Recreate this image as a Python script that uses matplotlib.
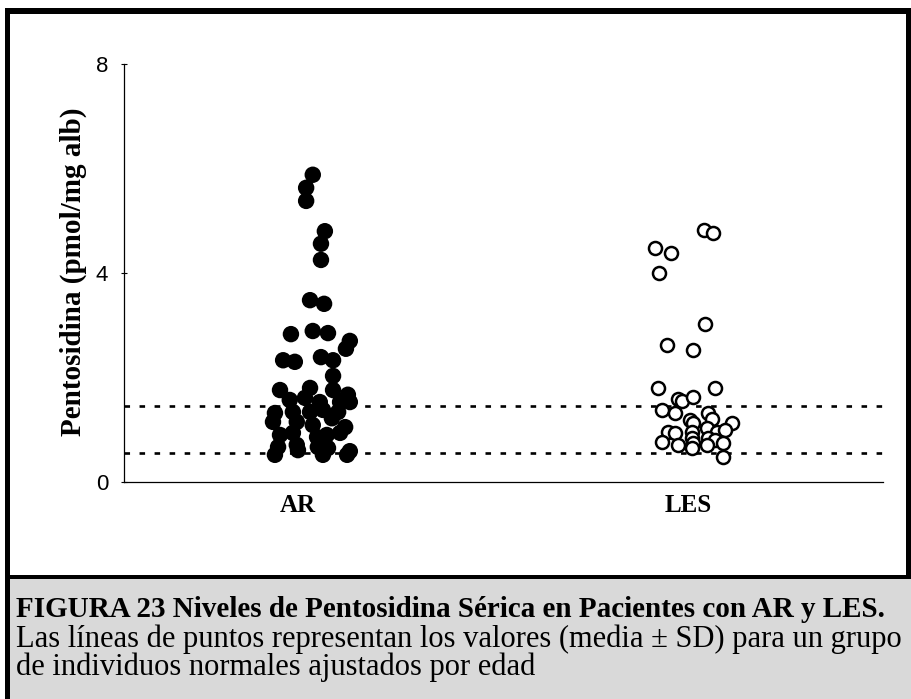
import matplotlib
matplotlib.use("Agg")
import matplotlib.pyplot as plt
from matplotlib.patches import Rectangle

# data
categories = ["AR", "LES"]

ar_x = [1.038, 1.021, 1.021, 1.069, 1.059, 1.059, 1.031, 1.067, 0.982, 1.038,
        1.077, 1.133, 1.123, 0.962, 0.992, 1.059, 1.090, 1.090, 0.954, 1.031,
        1.090, 1.128, 0.979, 1.018, 1.056, 1.108, 1.133, 0.941, 0.987, 1.031,
        1.064, 1.103, 0.936, 0.997, 1.038, 1.087, 1.121, 0.954, 0.987, 1.049,
        1.074, 1.108, 0.949, 0.997, 1.051, 1.077, 0.941, 1.000, 1.064, 1.133,
        1.126]
ar_y = [5.88, 5.63, 5.38, 4.80, 4.56, 4.25, 3.48, 3.41, 2.83, 2.89,
        2.85, 2.70, 2.55, 2.33, 2.30, 2.39, 2.33, 2.03, 1.76, 1.80,
        1.76, 1.67, 1.57, 1.61, 1.53, 1.53, 1.53, 1.32, 1.34, 1.34,
        1.38, 1.34, 1.15, 1.15, 1.09, 1.22, 1.05, 0.90, 0.94, 0.86,
        0.90, 0.94, 0.67, 0.71, 0.67, 0.65, 0.52, 0.61, 0.52, 0.59,
        0.52]

les_x = [2.041, 2.064, 1.915, 1.956, 1.926, 2.044, 1.946, 2.013, 1.923, 2.069,
         1.974, 1.985, 2.013, 1.933, 1.967, 2.051, 2.005, 2.062, 2.013, 2.113,
         1.949, 1.967, 2.049, 2.074, 2.095, 2.010, 1.933, 1.974, 2.010, 2.013,
         2.051, 2.069, 2.090, 2.010, 2.049, 2.090]
les_y = [4.82, 4.77, 4.48, 4.38, 4.00, 3.02, 2.62, 2.53, 1.80, 1.80,
         1.59, 1.55, 1.63, 1.38, 1.32, 1.32, 1.19, 1.21, 1.13, 1.13,
         0.96, 0.94, 1.03, 0.96, 1.00, 0.96, 0.77, 0.71, 0.84, 0.75,
         0.84, 0.80, 0.75, 0.65, 0.71, 0.48]

normal_limits = [0.55, 1.45]  # media - SD, media + SD
y_ticks = [0, 4, 8]

caption_title = "FIGURA 23 Niveles de Pentosidina Sérica en Pacientes con AR y LES."
caption_lines = [
    "Las líneas de puntos representan los valores (media ± SD) para un grupo",
    "de individuos normales ajustados por edad",
]

W, H = 911, 699


def fx(px):
    return px / W


def fy(py):
    return 1 - py / H


fig = plt.figure(figsize=(W / 100, H / 100), dpi=100)

# frame and caption box
fig.add_artist(Rectangle((fx(10), 0), 1 - fx(10), fy(578), transform=fig.transFigure,
                         facecolor="#d9d9d9", edgecolor="none", zorder=0))
for x0, y0, x1, y1 in [(5, 8, 911, 14), (5, 8, 10, 699), (906, 8, 911, 578), (5, 575, 911, 579)]:
    fig.add_artist(Rectangle((fx(x0), fy(y1)), fx(x1) - fx(x0), fy(y0) - fy(y1),
                             transform=fig.transFigure, facecolor="black",
                             edgecolor="none", zorder=1))

ax = fig.add_axes([fx(124), fy(482), fx(883) - fx(124), fy(64) - fy(482)])
ax.set_facecolor("none")

for y in normal_limits:
    ax.axhline(y, color="black", lw=1.9, dashes=(2.1, 3.6), zorder=1)

ax.scatter(ar_x, ar_y, s=140, color="black", edgecolors="none", zorder=3)
ax.scatter(les_x, les_y, s=88, facecolors="white", edgecolors="black",
           linewidths=1.8, zorder=3)

ax.set_xlim(0.554, 2.5)
ax.set_ylim(0, 8)
ax.set_yticks(y_ticks)
ax.set_yticklabels([str(t) for t in y_ticks], fontfamily="Liberation Sans", fontsize=16)
ax.set_xticks([1, 2])
ax.set_xticklabels(categories, fontfamily="Liberation Serif", fontweight="bold", fontsize=18)
ax.tick_params(axis="y", direction="inout", length=5, width=0.8, pad=9)
ax.tick_params(axis="x", length=0, pad=9)
for side in ["top", "right"]:
    ax.spines[side].set_visible(False)
for side in ["left", "bottom"]:
    ax.spines[side].set_linewidth(0.9)

fig.text(fx(73), fy(272), "Pentosidina (pmol/mg alb)", rotation=90, ha="center", va="center",
         fontfamily="Liberation Serif", fontweight="bold", fontsize=21)

fig.text(fx(16), fy(617), caption_title, ha="left", va="baseline",
         fontfamily="Liberation Serif", fontweight="bold", fontsize=21)
for i, line in enumerate(caption_lines):
    fig.text(fx(16), fy(647 + 28 * i), line, ha="left", va="baseline",
             fontfamily="Liberation Serif", fontsize=22)

fig.savefig("out.png", dpi=100)
